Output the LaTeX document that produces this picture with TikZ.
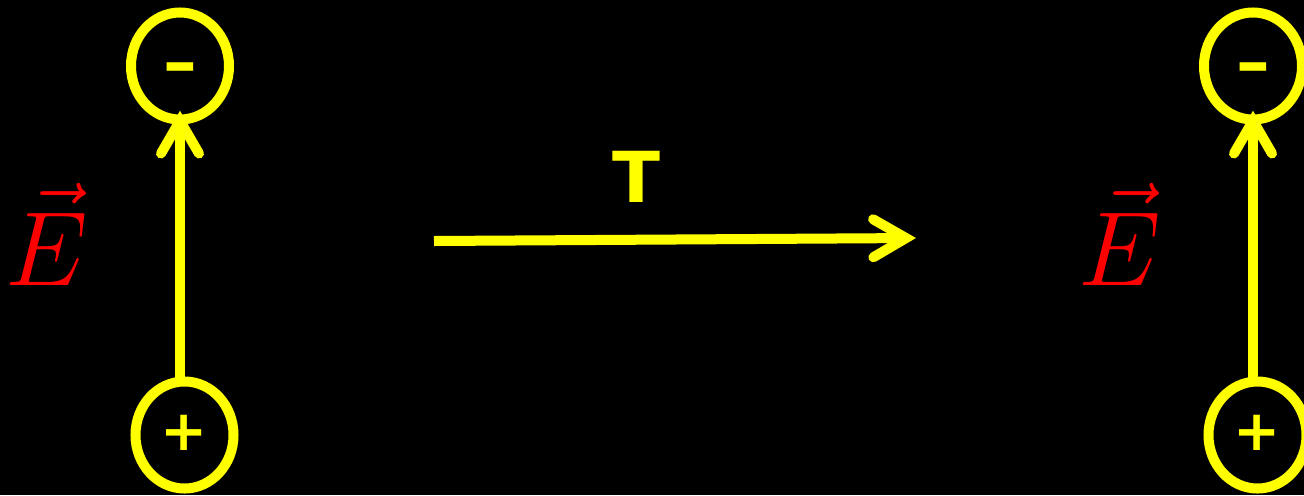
\documentclass[tikz,border=0pt]{standalone}
\usepackage{fix-cm}
\usepackage{fontspec}
\newfontfamily\chalkfont{DejaVu Sans}
\usetikzlibrary{shapes.geometric,arrows.meta}
\definecolor{chalkyellow}{RGB}{255,255,0}
\begin{document}
\begin{tikzpicture}[x=0.025cm,y=-0.025cm,
  charge/.style={draw=chalkyellow,line width=0.25cm,ellipse,inner sep=0pt,outer sep=0pt,
    minimum width=2.45cm,minimum height=2.675cm},
  sign/.style={text=chalkyellow,font=\chalkfont\bfseries\fontsize{40}{40}\selectfont,
    anchor=mid,yshift=-0.31cm,inner sep=0pt},
  minussign/.style={sign,font=\chalkfont\bfseries\fontsize{48}{48}\selectfont,yshift=-0.1cm},
  field/.style={draw=chalkyellow,line width=0.25cm,
    -{Straight Barb[length=0.82cm,width=0.95cm,line cap=round,line join=miter]}},
  elabel/.style={text=red,font=\fontsize{75}{75}\selectfont,anchor=base west,inner sep=0pt}]
\fill[black] (0,0) rectangle (1304,495);
\useasboundingbox (0,0) rectangle (1304,495);

\node[charge] (topL) at (180,66) {};
\node[charge] (botL) at (184.5,435) {};
\node[minussign] (minusL) at (topL) {–};
\node[sign] (plusL) at (botL) {+};
\draw[field,shorten >=-0.22cm] (botL.north -| topL) -- (topL.south);
\node[elabel] (eL) at (5,285) {$\vec{E}$};

\coordinate (tStart) at (434,241);
\coordinate (tEnd) at (916,238);
\draw[field] (tStart) -- (tEnd);
\node[sign,anchor=center,yshift=0.31cm,font=\chalkfont\bfseries\fontsize{50}{50}\selectfont] (tLabel) at (636,177) {T};

\node[charge] (topR) at (1253,66) {};
\node[charge] (botR) at (1257.5,435) {};
\node[minussign] (minusR) at (topR) {–};
\node[sign] (plusR) at (botR) {+};
\draw[field,shorten >=-0.22cm] (botR.north -| topR) -- (topR.south);
\node[elabel] (eR) at (1078,285) {$\vec{E}$};
\end{tikzpicture}
\end{document}
